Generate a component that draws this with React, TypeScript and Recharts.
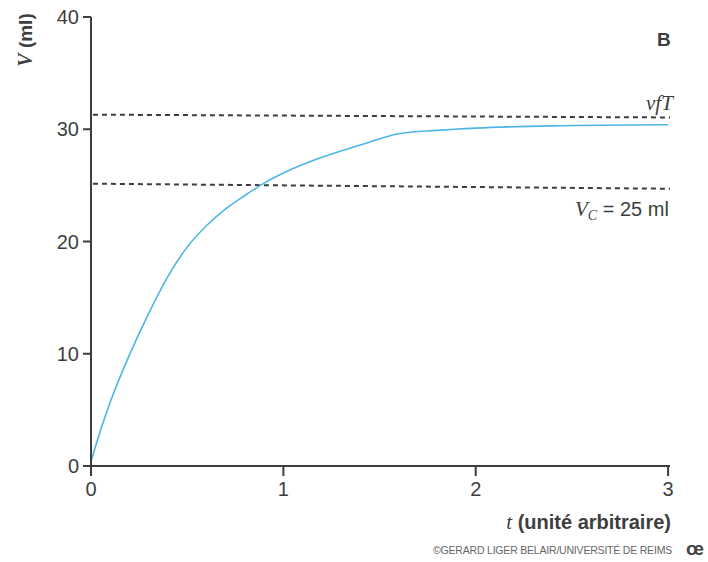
import React from "react";
import { LineChart, Line, XAxis, YAxis } from "recharts";

const tValues = [0, 0.05, 0.1, 0.2, 0.3, 0.4, 0.5, 0.6, 0.7, 0.8, 0.9, 1.0, 1.2, 1.4, 1.6, 1.8, 2.0, 2.4, 3.0];
const vValues = [0.4, 3.2, 5.7, 9.9, 13.6, 16.9, 19.5, 21.4, 22.9, 24.1, 25.2, 26.1, 27.5, 28.6, 29.6, 29.9, 30.1, 30.3, 30.4];

const vfTLine = [
  { t: 0.01, v: 31.3 },
  { t: 3.01, v: 31.05 },
];
const vcLine = [
  { t: 0.01, v: 25.15 },
  { t: 3.01, v: 24.7 },
];

const xTicks = [0, 1, 2, 3];
const yTicks = [0, 10, 20, 30, 40];

const curve = tValues.map((t, i) => ({ t, v: vValues[i] }));

const ink = "#3d3f3e";
const sans = "'Liberation Sans', Arial, sans-serif";
const serif = "'Liberation Serif', 'Times New Roman', serif";

export default function App() {
  return (
    <div style={{ position: "absolute", left: 0, top: 0, width: 708, height: 562, background: "#fff" }}>
      <LineChart width={708} height={562} margin={{ top: 17, right: 38, bottom: 66, left: 31 }}>
        <XAxis
          type="number"
          dataKey="t"
          domain={[0, 3]}
          ticks={xTicks}
          allowDuplicatedCategory={false}
          height={30}
          tickSize={10}
          tickMargin={6}
          stroke={ink}
          strokeWidth={2}
          tick={{ fill: ink, fontSize: 20, fontFamily: sans }}
        />
        <YAxis
          type="number"
          domain={[0, 40]}
          ticks={yTicks}
          width={60}
          tickSize={8}
          tickMargin={4}
          stroke={ink}
          strokeWidth={2}
          tick={{ fill: ink, fontSize: 20, fontFamily: sans }}
        />
        <Line data={vfTLine} dataKey="v" stroke={ink} strokeWidth={2} strokeDasharray="5 4" dot={false} isAnimationActive={false} />
        <Line data={vcLine} dataKey="v" stroke={ink} strokeWidth={2} strokeDasharray="5 4" dot={false} isAnimationActive={false} />
        <Line data={curve} dataKey="v" type="monotone" stroke="#4db6e6" strokeWidth={1.6} dot={false} isAnimationActive={false} />
      </LineChart>

      <div style={{ position: "absolute", left: 0, top: 0, width: 708, height: 562, pointerEvents: "none", color: ink }}>
        <div style={{ position: "absolute", left: 657, top: 29, fontFamily: sans, fontWeight: "bold", fontSize: 19 }}>B</div>
        <div style={{ position: "absolute", left: 646, top: 91, fontFamily: serif, fontStyle: "italic", fontSize: 21 }}>vfT</div>
        <div style={{ position: "absolute", left: 575, top: 197, fontSize: 20, whiteSpace: "nowrap", fontFamily: sans }}>
          <span style={{ fontFamily: serif, fontStyle: "italic", fontSize: 21 }}>V</span>
          <sub style={{ fontFamily: serif, fontStyle: "italic", fontSize: 14, verticalAlign: "-4px" }}>C</sub>
          <span> = 25 ml</span>
        </div>
        <div
          style={{
            position: "absolute",
            left: 25,
            top: 40,
            transform: "translate(-50%, -50%) rotate(-90deg)",
            whiteSpace: "nowrap",
            fontFamily: sans,
            fontWeight: "bold",
            fontSize: 19,
          }}
        >
          <span style={{ fontFamily: serif, fontStyle: "italic", fontSize: 20 }}>V</span> (ml)
        </div>
        <div style={{ position: "absolute", right: 37, top: 510, whiteSpace: "nowrap", fontFamily: sans, fontWeight: "bold", fontSize: 20 }}>
          <span style={{ fontFamily: serif, fontStyle: "italic", fontWeight: "normal", fontSize: 21 }}>t</span> (unité arbitraire)
        </div>
        <div style={{ position: "absolute", right: 36, top: 544, whiteSpace: "nowrap", fontFamily: sans, fontSize: 10.5, letterSpacing: -0.2, color: "#666" }}>
          ©GERARD LIGER BELAIR/UNIVERSITÉ DE REIMS
        </div>
        <div style={{ position: "absolute", left: 686, top: 538, fontFamily: sans, fontWeight: "bold", fontSize: 19, color: "#444" }}>œ</div>
      </div>
    </div>
  );
}
